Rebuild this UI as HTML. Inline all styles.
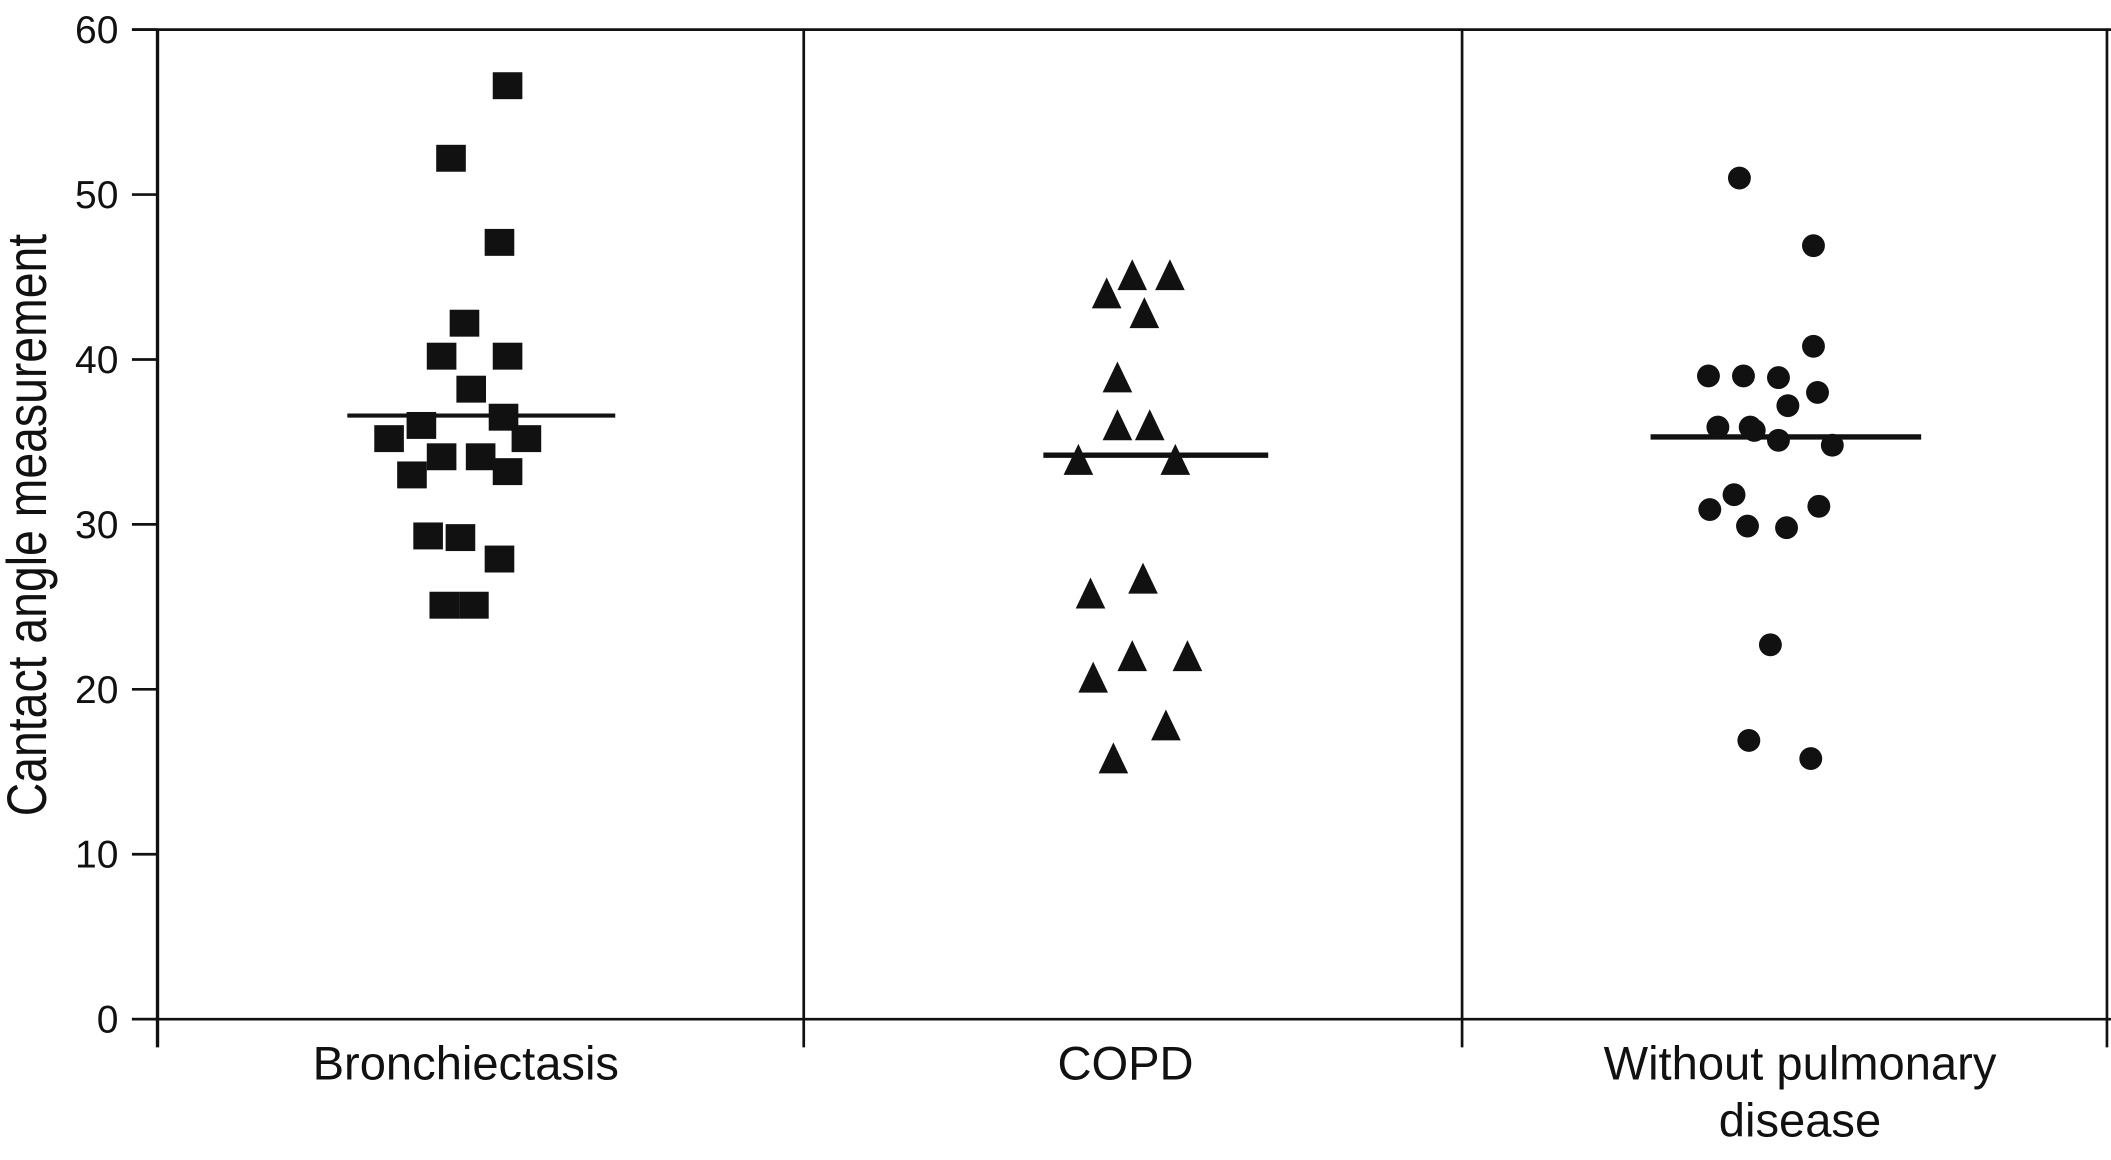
<!DOCTYPE html>
<html><head><meta charset="utf-8">
<style>
html,body{margin:0;padding:0;background:#fff;}
svg{display:block;}
text{font-family:"Liberation Sans",sans-serif;fill:#111;}
</style></head>
<body>
<svg id="chart" width="2111" height="1160" viewBox="0 0 1568 861.6" xmlns="http://www.w3.org/2000/svg">
<g id="axes"></g>
<g id="marks"></g>
<text transform="translate(34,390) rotate(-90) scale(0.84,1)" text-anchor="middle" font-size="41">Cantact angle measurement</text>
</svg>
<script>
const categories = ["Bronchiectasis", "COPD", "Without pulmonary disease"];
const yTicks = [0, 10, 20, 30, 40, 50, 60];
const bronchValues = [56.6, 52.2, 47.1, 42.2, 40.2, 40.2, 38.2, 36.5, 36.0, 35.2, 35.2, 34.1, 34.1, 33.0, 33.2, 29.3, 29.2, 27.9, 25.1, 25.1];
const bronchJitter = [31, -11, 25, -1, -18, 31, 4, 28, -33, -57, 45, -18, 11, -40, 31, -28, -4, 25, -16, 6];
const copdValues = [45.1, 45.1, 44.0, 42.8, 38.9, 36.0, 36.0, 33.9, 33.9, 25.8, 26.7, 22.0, 22.0, 20.7, 17.8, 15.8];
const copdJitter = [5, 33, -14, 14, -6, -6, 18, -35, 37, -26, 13, 5, 46, -24, 30, -9];
const withoutValues = [51.0, 46.9, 40.8, 39.0, 39.0, 38.9, 38.0, 37.2, 35.9, 35.9, 35.7, 35.1, 34.8, 31.8, 30.9, 31.1, 29.9, 29.8, 22.7, 16.9, 15.8];
const withoutJitter = [-45, 10, 10, -68, -42, -16, 13, -9, -61, -37, -34, -16, 24, -49, -67, 14, -39, -10, -22, -38, 8];
const medians = [36.6, 34.2, 35.3];

const NS = "http://www.w3.org/2000/svg";
const X0 = 117, Y0 = 757, Ytop = 22, VMAX = 60;
const dividers = [117, 597, 1086, 1565];
const centers = [346, 836, 1337];
function y(v){ return Y0 - (v / VMAX) * (Y0 - Ytop); }
function mk(tag, attrs, parent){ const e = document.createElementNS(NS, tag); for (const k in attrs) e.setAttribute(k, attrs[k]); parent.appendChild(e); return e; }

const axes = document.getElementById("axes");
const marks = document.getElementById("marks");
let l = mk("line", {x1: 98, y1: Ytop, x2: 1568, y2: Ytop, stroke: "#111", "stroke-width": 2}, axes);


l = mk("line", {x1: 98, y1: Y0, x2: 1568, y2: Y0, stroke: "#111", "stroke-width": 2}, axes);


dividers.forEach(function(dx, i){
  const d = mk("line", {x1: dx, y1: Ytop, x2: dx, y2: Y0 + 21, stroke: "#111", "stroke-width": i === 0 ? 2.5 : 2}, axes);
  
  
});
yTicks.forEach(function(t){
  const tk = mk("line", {x1: 98, y1: y(t), x2: X0, y2: y(t), stroke: "#111", "stroke-width": 2}, axes);
  
  
  const tx = mk("text", {x: 88, y: y(t) + 10, "text-anchor": "end", "font-size": 29}, axes);
  tx.textContent = t;
  
  
});
categories.forEach(function(c, i){
  const lines = c === "Without pulmonary disease" ? ["Without pulmonary", "disease"] : [c];
  lines.forEach(function(s, j){
    const tx = mk("text", {x: centers[i], y: 802 + j * 42, "text-anchor": "middle", "font-size": 35}, axes);
    tx.textContent = s;
    
    
  });
});

const medianSpans = [[258, 457], [775, 942], [1226, 1427]];
medians.forEach(function(m, i){
  const ml = mk("line", {x1: medianSpans[i][0], y1: y(m), x2: medianSpans[i][1], y2: y(m), stroke: "#111", "stroke-width": i === 0 ? 3 : 4}, marks);
  
  
});

bronchValues.forEach(function(v, i){
  const cx = centers[0] + bronchJitter[i], cy = y(v);
  const r = mk("rect", {x: cx - 11, y: cy - 10, width: 22, height: 20, fill: "#111"}, marks);
  
  
});
copdValues.forEach(function(v, i){
  const cx = centers[1] + copdJitter[i], cy = y(v);
  const p = mk("polygon", {points: (cx) + "," + (cy - 12) + " " + (cx - 11) + "," + (cy + 11) + " " + (cx + 11) + "," + (cy + 11), fill: "#111"}, marks);
  
  
});
withoutValues.forEach(function(v, i){
  const cx = centers[2] + withoutJitter[i], cy = y(v);
  const c = mk("circle", {cx: cx, cy: cy, r: 8.5, fill: "#111"}, marks);
  
  
});
</script>
</body></html>
